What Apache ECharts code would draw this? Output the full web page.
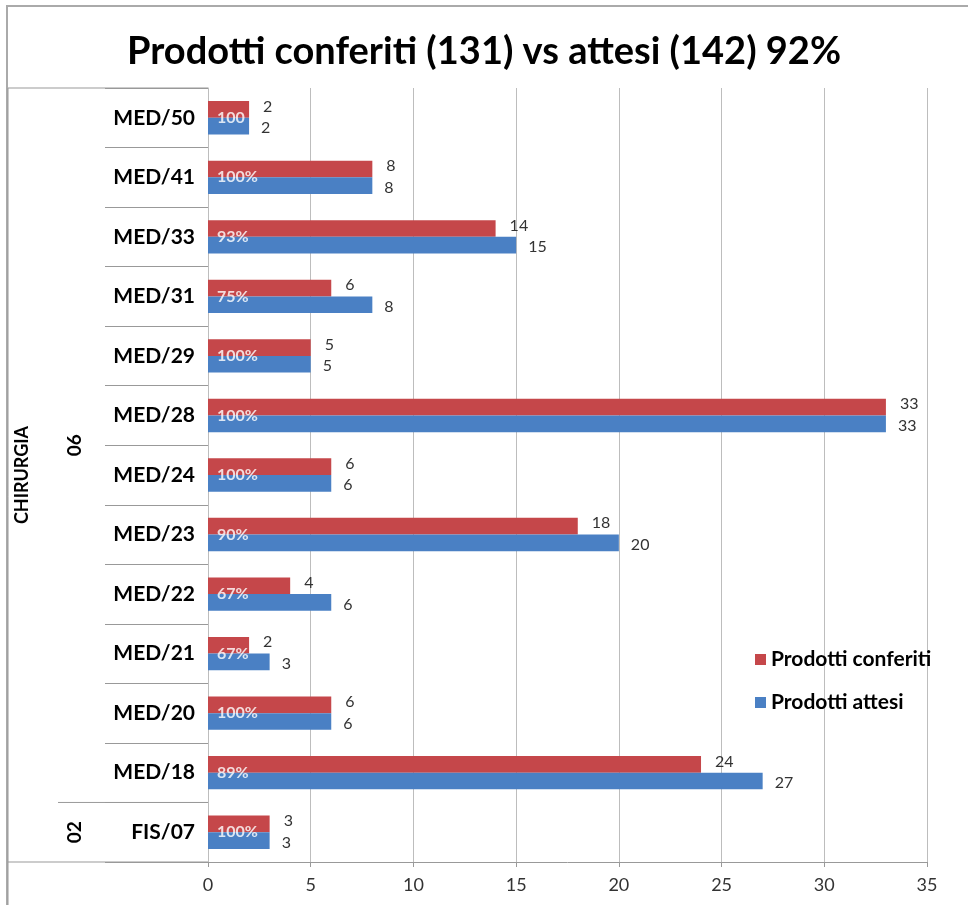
<!DOCTYPE html>
<html>
<head>
<meta charset="utf-8">
<script src="https://cdn.jsdelivr.net/npm/echarts@6/dist/echarts.min.js"></script>
<style>
  html, body { margin: 0; padding: 0; background: #fff; }
  #chart { width: 968px; height: 905px; }
</style>
</head>
<body>
<div id="chart"></div>
<script>
  // dati (dall'alto verso il basso)
  var settori = ['MED/50', 'MED/41', 'MED/33', 'MED/31', 'MED/29', 'MED/28', 'MED/24',
                 'MED/23', 'MED/22', 'MED/21', 'MED/20', 'MED/18', 'FIS/07'];
  var conferiti = [2, 8, 14, 6, 5, 33, 6, 18, 4, 2, 6, 24, 3];
  var attesi    = [2, 8, 15, 8, 5, 33, 6, 20, 6, 3, 6, 27, 3];
  var percentuali = ['100', '100%', '93%', '75%', '100%', '100%', '100%', '90%', '67%', '67%', '100%', '89%', '100%'];
  var gruppi = [
    { nome: '06', da: 0, a: 11 },
    { nome: '02', da: 12, a: 12 }
  ];
  var areaNome = 'CHIRURGIA';

  var rosso = '#C5474A';
  var blu = '#4A80C4';
  var font = 'Lato';

  var myChart = echarts.init(document.getElementById('chart'));

  var option = {
    animation: false,
    backgroundColor: '#fff',
    title: {
      text: 'Prodotti conferiti (131) vs attesi (142) 92%',
      left: 'center',
      top: 28,
      textStyle: { fontFamily: font, fontWeight: 'bold', fontSize: 38, color: '#000' }
    },
    legend: {
      orient: 'vertical',
      left: 750,
      top: 644,
      itemWidth: 11,
      itemHeight: 11,
      itemGap: 22,
      icon: 'rect',
      data: ['Prodotti conferiti', 'Prodotti attesi'],
      textStyle: { fontFamily: font, fontWeight: 'bold', fontSize: 21, color: '#000' }
    },
    grid: { left: 208, right: 41, top: 88, bottom: 43 },
    xAxis: {
      type: 'value',
      min: 0, max: 35, interval: 5,
      axisLine: { show: true, lineStyle: { color: '#999' } },
      axisTick: { show: true, length: 5, lineStyle: { color: '#999' } },
      splitLine: { show: true, lineStyle: { color: '#bdbdbd' } },
      axisLabel: { fontFamily: font, fontSize: 18, color: '#333', margin: 14 }
    },
    yAxis: {
      type: 'category',
      inverse: true,
      data: settori,
      axisLine: { show: true, lineStyle: { color: '#bdbdbd' } },
      axisTick: { show: true, length: 103, alignWithLabel: false, lineStyle: { color: '#999' } },
      axisLabel: { fontFamily: font, fontWeight: 'bold', fontSize: 21, color: '#000', margin: 13 }
    },
    series: [
      {
        name: 'Prodotti conferiti',
        type: 'bar',
        data: conferiti,
        barGap: '0%',
        barCategoryGap: '44%',
        itemStyle: { color: rosso },
        label: {
          show: true, position: 'right', distance: 14, offset: [0, -3],
          fontFamily: font, fontSize: 16, color: '#333'
        }
      },
      {
        name: 'Prodotti attesi',
        type: 'bar',
        data: attesi,
        barGap: '0%',
        barCategoryGap: '44%',
        itemStyle: { color: blu },
        label: {
          show: true, position: 'right', distance: 12, offset: [0, 2],
          fontFamily: font, fontSize: 16, color: '#333'
        }
      },
      {
        name: 'percentuale',
        type: 'scatter',
        symbolSize: 0,
        clip: false,
        silent: true,
        data: percentuali.map(function (p) { return { value: 0, pct: p }; }),
        label: {
          show: true, position: 'right', distance: 9,
          fontFamily: font, fontWeight: 'bold', fontSize: 16, color: '#fff',
          formatter: function (params) { return params.data.pct; }
        }
      }
    ]
  };
  myChart.setOption(option);

  // cornice e etichette di gruppo a sinistra
  var x0 = myChart.convertToPixel({ xAxisIndex: 0 }, 0);
  var band = myChart.convertToPixel({ yAxisIndex: 0 }, settori[1]) - myChart.convertToPixel({ yAxisIndex: 0 }, settori[0]);
  var yTop = myChart.convertToPixel({ yAxisIndex: 0 }, settori[0]) - band / 2;
  var yBottom = myChart.convertToPixel({ yAxisIndex: 0 }, settori[settori.length - 1]) + band / 2;
  var linea = { stroke: '#999', lineWidth: 1 };

  var grafica = [
    { type: 'polyline', shape: { points: [[7, 905], [7, 6], [968, 6]] }, style: { stroke: '#aaa', lineWidth: 2, fill: null } },
    { type: 'line', shape: { x1: 8, y1: yTop, x2: x0, y2: yTop }, style: linea },
    { type: 'line', shape: { x1: 8, y1: yTop, x2: 8, y2: 905 }, style: linea },
    { type: 'line', shape: { x1: 8, y1: yBottom, x2: x0, y2: yBottom }, style: linea },
    {
      type: 'text', rotation: Math.PI / 2,
      x: 22, y: (yTop + yBottom) / 2,
      style: { text: areaNome, font: 'bold 18px ' + font, fill: '#000', align: 'center', verticalAlign: 'middle' }
    }
  ];
  gruppi.forEach(function (g) {
    var a = myChart.convertToPixel({ yAxisIndex: 0 }, settori[g.da]) - band / 2;
    var b = myChart.convertToPixel({ yAxisIndex: 0 }, settori[g.a]) + band / 2;
    grafica.push({
      type: 'text', rotation: Math.PI / 2,
      x: 75, y: (a + b) / 2,
      style: { text: g.nome, font: 'bold 19px ' + font, fill: '#000', align: 'center', verticalAlign: 'middle' }
    });
    if (g.da > 0) {
      grafica.push({ type: 'line', shape: { x1: 58, y1: a, x2: x0, y2: a }, style: linea });
    }
  });
  myChart.setOption({ graphic: grafica });
</script>
</body>
</html>
